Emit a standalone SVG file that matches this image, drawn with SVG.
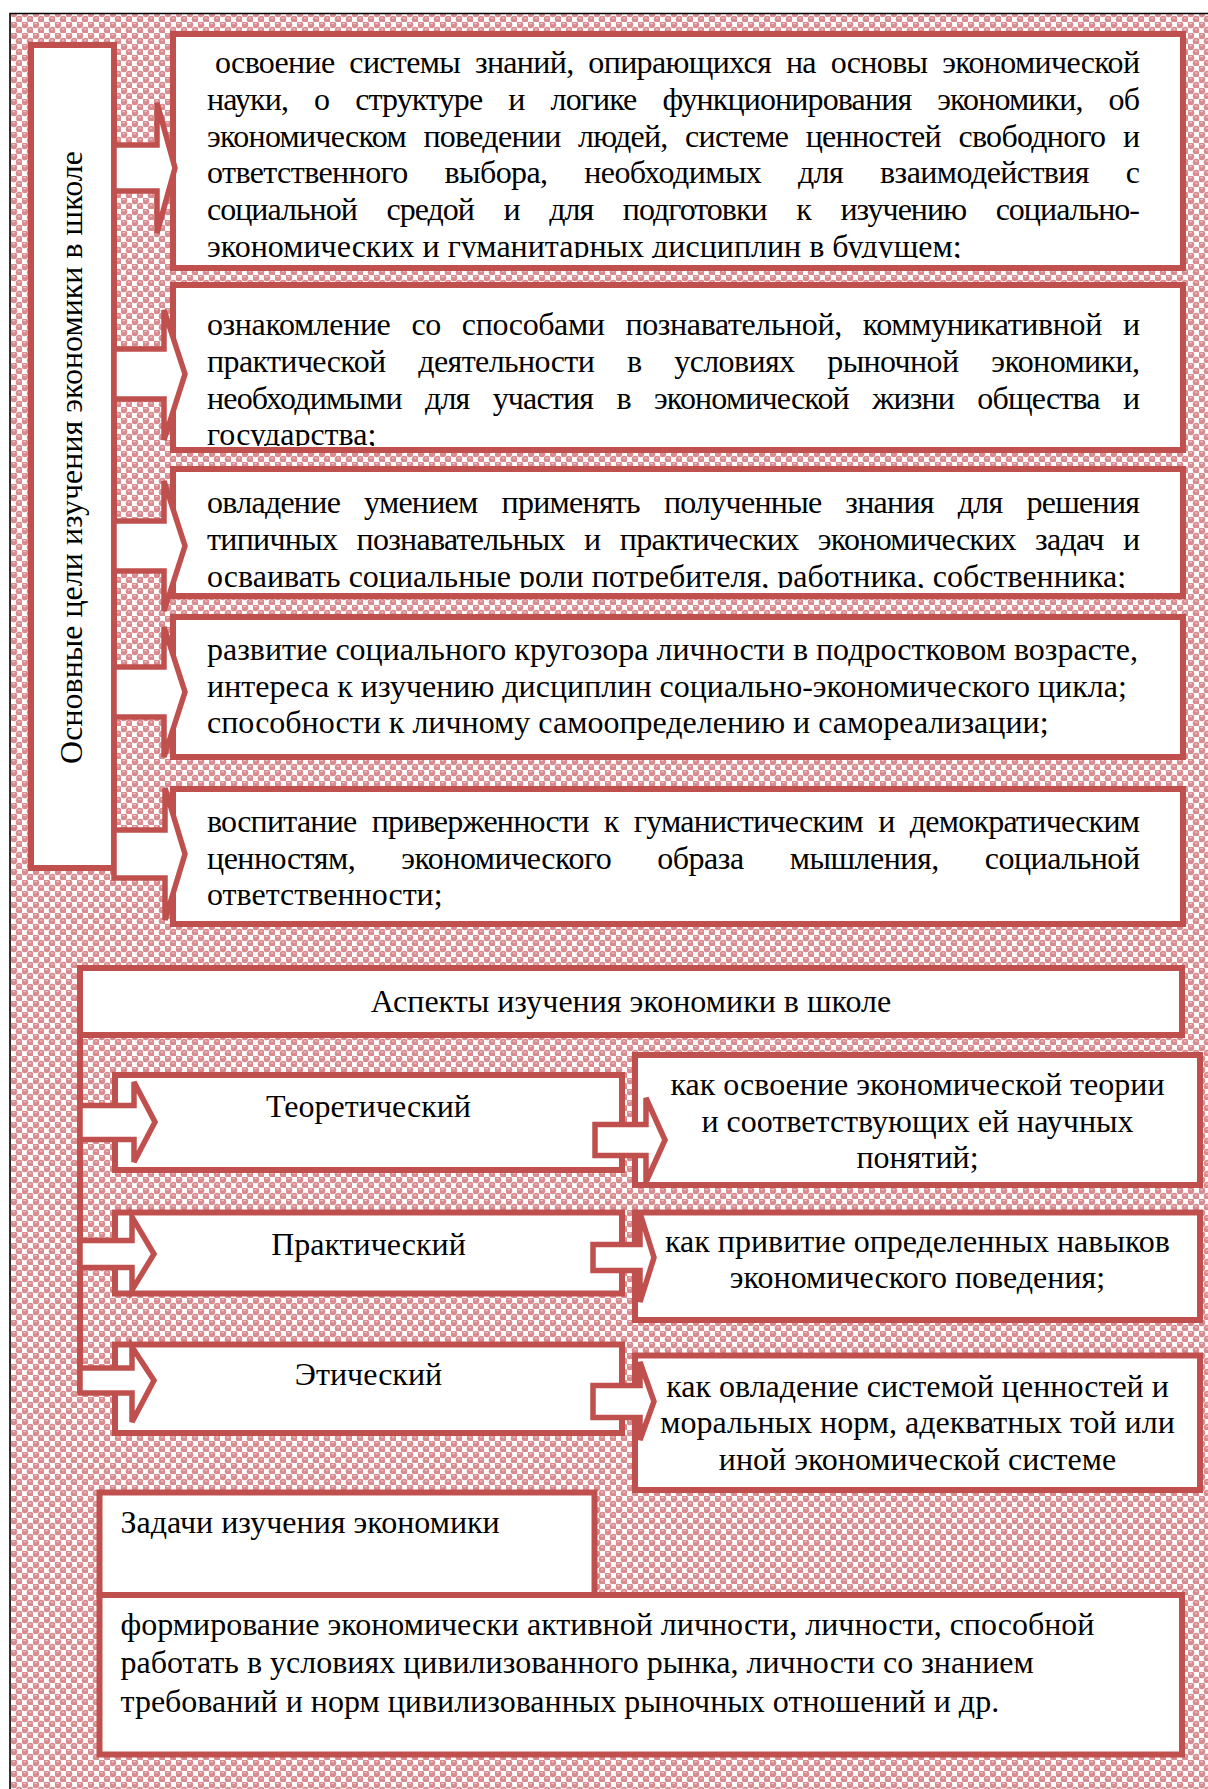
<svg xmlns="http://www.w3.org/2000/svg" width="1208" height="1789" viewBox="0 0 1208 1789">
<defs>
<pattern id="pat" width="11" height="11" patternUnits="userSpaceOnUse">
<rect width="11" height="11" fill="#ffffff"/>
<circle cx="2.75" cy="2.75" r="3.5" fill="#D98C90"/>
<circle cx="8.25" cy="8.25" r="3.5" fill="#D98C90"/>
<ellipse cx="2.6" cy="1.6" rx="1.5" ry="0.7" fill="#F2CDCD"/>
<ellipse cx="8.1" cy="7.1" rx="1.5" ry="0.7" fill="#F2CDCD"/>
</pattern>
<clipPath id="c1"><rect x="176" y="37" width="1004" height="221"/></clipPath>
<clipPath id="c2"><rect x="176" y="288" width="1004" height="158"/></clipPath>
<clipPath id="c3"><rect x="176" y="472" width="1004" height="116"/></clipPath>
<style>
.box{fill:#ffffff;stroke:#C0504D;stroke-width:6}
.arr{fill:#ffffff;stroke:#C0504D;stroke-width:5.5;stroke-linejoin:miter}
.t{font-family:"Liberation Serif","Times New Roman",serif;font-size:32px;fill:#000000}
.c{text-anchor:middle}
</style>
</defs>
<rect x="10" y="13" width="1198" height="1776" fill="url(#pat)"/>
<path d="M10,1789 V13.5 H1208" fill="none" stroke="#000000" stroke-width="1.6"/>

<g id="goals-title">
<rect class="box" x="31" y="45" width="83" height="823"/>
<text class="t c" transform="translate(82,457.5) rotate(-90)">Основные цели изучения экономики в школе</text>
</g>

<g id="goal1">
<rect class="box" x="173" y="34" width="1010" height="234"/>
<g clip-path="url(#c1)">
<text class="t" x="215" y="73" textLength="925" lengthAdjust="spacing" style="word-spacing:7.5px">освоение системы знаний, опирающихся на основы экономической</text>
<text class="t" x="207" y="109.8" textLength="933" lengthAdjust="spacing" style="word-spacing:18.9px">науки, о структуре и логике функционирования экономики, об</text>
<text class="t" x="207" y="146.6" textLength="933" lengthAdjust="spacing" style="word-spacing:10.2px">экономическом поведении людей, системе ценностей свободного и</text>
<text class="t" x="207" y="183.4" textLength="933" lengthAdjust="spacing" style="word-spacing:29.4px">ответственного выбора, необходимых для взаимодействия с</text>
<text class="t" x="207" y="220.2" textLength="933" lengthAdjust="spacing" style="word-spacing:22.6px">социальной средой и для подготовки к изучению социально-</text>
<text class="t" x="207" y="257">экономических и гуманитарных дисциплин в будущем;</text>
</g>
</g>

<g id="goal2">
<rect class="box" x="173" y="285" width="1010" height="165"/>
<g clip-path="url(#c2)">
<text class="t" x="207" y="335" textLength="933" lengthAdjust="spacing" style="word-spacing:13.4px">ознакомление со способами познавательной, коммуникативной и</text>
<text class="t" x="207" y="371.8" textLength="933" lengthAdjust="spacing" style="word-spacing:25.4px">практической деятельности в условиях рыночной экономики,</text>
<text class="t" x="207" y="408.6" textLength="933" lengthAdjust="spacing" style="word-spacing:16.1px">необходимыми для участия в экономической жизни общества и</text>
<text class="t" x="207" y="445.4">государства;</text>
</g>
</g>

<g id="goal3">
<rect class="box" x="173" y="469" width="1010" height="127"/>
<g clip-path="url(#c3)">
<text class="t" x="207" y="513" textLength="933" lengthAdjust="spacing" style="word-spacing:16.7px">овладение умением применять полученные знания для решения</text>
<text class="t" x="207" y="550" textLength="933" lengthAdjust="spacing" style="word-spacing:12px">типичных познавательных и практических экономических задач и</text>
<text class="t" x="207" y="587">осваивать социальные роли потребителя, работника, собственника;</text>
</g>
</g>

<g id="goal4">
<rect class="box" x="173" y="617" width="1010" height="140"/>
<text class="t" x="207" y="660">развитие социального кругозора личности в подростковом возрасте,</text>
<text class="t" x="207" y="696.5">интереса к изучению дисциплин социально-экономического цикла;</text>
<text class="t" x="207" y="733">способности к личному самоопределению и самореализации;</text>
</g>

<g id="goal5">
<rect class="box" x="173" y="789" width="1010" height="135"/>
<text class="t" x="207" y="832" textLength="933" lengthAdjust="spacing" style="word-spacing:8px">воспитание приверженности к гуманистическим и демократическим</text>
<text class="t" x="207" y="868.5" textLength="933" lengthAdjust="spacing" style="word-spacing:38.5px">ценностям, экономического образа мышления, социальной</text>
<text class="t" x="207" y="905">ответственности;</text>
</g>

<g id="aspects-title">
<rect class="box" x="80" y="968" width="1102" height="67"/>
<text class="t c" x="631" y="1012">Аспекты изучения экономики в школе</text>
</g>

<g id="theoretical">
<rect class="box" x="115" y="1075" width="507" height="95"/>
<text class="t c" x="368.5" y="1117">Теоретический</text>
</g>
<g id="practical">
<rect class="box" x="115" y="1212.5" width="507" height="81"/>
<text class="t c" x="368.5" y="1255">Практический</text>
</g>
<g id="ethical">
<rect class="box" x="115" y="1344.5" width="507" height="88.5"/>
<text class="t c" x="368.5" y="1385">Этический</text>
</g>

<g id="theoretical-desc">
<rect class="box" x="635" y="1055" width="565" height="130"/>
<text class="t c" x="917.5" y="1095">как освоение экономической теории</text>
<text class="t c" x="917.5" y="1132">и соответствующих ей научных</text>
<text class="t c" x="917.5" y="1168">понятий;</text>
</g>
<g id="practical-desc">
<rect class="box" x="635" y="1212.5" width="565" height="107.5"/>
<text class="t c" x="917.5" y="1252">как привитие определенных навыков</text>
<text class="t c" x="917.5" y="1288">экономического поведения;</text>
</g>
<g id="ethical-desc">
<rect class="box" x="635" y="1355.5" width="565" height="134.5"/>
<text class="t c" x="917.5" y="1397">как овладение системой ценностей и</text>
<text class="t c" x="917.5" y="1433">моральных норм, адекватных той или</text>
<text class="t c" x="917.5" y="1470">иной экономической системе</text>
</g>

<g id="tasks-title">
<rect class="box" x="99.5" y="1492.5" width="495" height="102.5"/>
<text class="t" x="120.5" y="1533">Задачи изучения экономики</text>
</g>
<g id="tasks-body">
<rect class="box" x="99.5" y="1595" width="1082.5" height="159.5"/>
<text class="t" x="120.5" y="1635">формирование экономически активной личности, личности, способной</text>
<text class="t" x="120.5" y="1673">работать в условиях цивилизованного рынка, личности со знанием</text>
<text class="t" x="120.5" y="1712">требований и норм цивилизованных рыночных отношений и др.</text>
</g>

<g id="connectors">
<line x1="80" y1="1035" x2="80" y2="1393" stroke="#C0504D" stroke-width="6"/>
<polygon class="arr" points="114,145 157,145 157,103 175,168 157,233 157,191 114,191"/>
<polygon class="arr" points="114,349 164,349 164,310 185,374 164,440 164,399 114,399"/>
<polygon class="arr" points="114,521 164,521 164,481 185,546 164,611 164,571 114,571"/>
<polygon class="arr" points="114,667 164,667 164,627 185,692 164,757 164,717 114,717"/>
<polygon class="arr" points="114,830 165,830 165,788 185,854 165,920 165,878 114,878"/>
<polygon class="arr" points="80,1105.5 134,1105.5 134,1082 155,1122 134,1162 134,1139.5 80,1139.5"/>
<polygon class="arr" points="80,1240.5 132,1240.5 132,1217 154,1254 132,1290 132,1267.5 80,1267.5"/>
<polygon class="arr" points="80,1368 132,1368 132,1347 154,1380.5 132,1422 132,1393 80,1393"/>
<polygon class="arr" points="595,1124.5 646,1124.5 646,1098 665,1140 646,1182 646,1155.5 595,1155.5"/>
<polygon class="arr" points="593,1244.5 640,1244.5 640,1213 654,1257.5 640,1302 640,1270.5 593,1270.5"/>
<polygon class="arr" points="593,1385.5 640,1385.5 640,1362 654,1401.5 640,1440 640,1417.5 593,1417.5"/>
</g>
</svg>
